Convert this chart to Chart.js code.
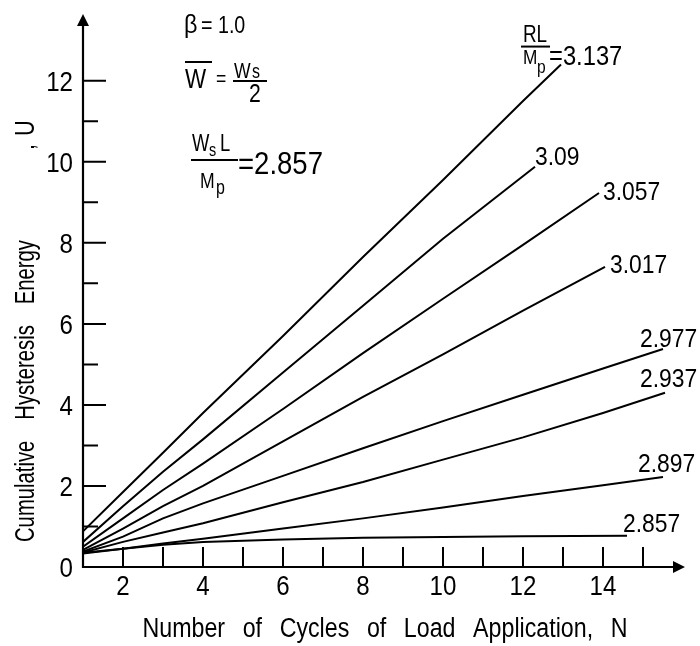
<!DOCTYPE html>
<html>
<head>
<meta charset="utf-8">
<script src="https://cdn.jsdelivr.net/npm/chart.js@4.4.0/dist/chart.umd.min.js"></script>
<style>
  html, body { margin: 0; padding: 0; background: #fff; }
</style>
</head>
<body>
<canvas id="hystChart" width="700" height="646"></canvas>
<script>
// values, one pair of arrays per curve (N, U)
const N_3137 = [1, 2, 3, 4, 6, 8, 10, 12, 12.95];
const U_3137 = [0.88, 1.85, 2.82, 3.8, 5.7, 7.65, 9.55, 11.5, 12.4];
const N_309  = [1, 2, 3, 4, 6, 8, 10, 12.3];
const U_309  = [0.62, 1.5, 2.35, 3.15, 4.8, 6.45, 8.1, 9.88];
const N_3057 = [1, 2, 3, 4, 6, 8, 10, 12, 13.9];
const U_3057 = [0.5, 1.2, 1.9, 2.55, 3.9, 5.28, 6.62, 7.95, 9.23];
const N_3017 = [1, 2, 3, 4, 6, 8, 10, 12, 14.05];
const U_3017 = [0.42, 0.95, 1.5, 2.0, 3.1, 4.2, 5.25, 6.33, 7.41];
const N_2977 = [1, 2, 3, 4, 6, 8, 10, 12, 14, 15.5];
const U_2977 = [0.38, 0.75, 1.2, 1.57, 2.25, 2.93, 3.6, 4.25, 4.9, 5.38];
const N_2937 = [1, 2, 3, 4, 6, 8, 10, 12, 14, 15.55];
const U_2937 = [0.36, 0.62, 0.85, 1.08, 1.6, 2.1, 2.65, 3.2, 3.8, 4.3];
const N_2897 = [1, 2, 3, 4, 6, 8, 10, 12, 14, 15.5];
const U_2897 = [0.35, 0.45, 0.58, 0.7, 0.95, 1.2, 1.47, 1.75, 2.02, 2.22];
const N_2857 = [1, 2, 3, 4, 6, 8, 10, 12, 14.6];
const U_2857 = [0.33, 0.45, 0.55, 0.62, 0.68, 0.72, 0.74, 0.76, 0.77];

// RL/Mp value of each curve
const RL_MP = ['3.137', '3.09', '3.057', '3.017', '2.977', '2.937', '2.897', '2.857'];

// axis ticks
const X_TICKS = [2, 3, 4, 5, 6, 7, 8, 9, 10, 11, 12, 13, 14, 15];
const X_LABELS = [2, 4, 6, 8, 10, 12, 14];
const Y_TICKS = [1, 2, 3, 4, 5, 6, 7, 8, 9, 10, 11, 12];
const Y_LABELS = [0, 2, 4, 6, 8, 10, 12];

const X_TITLE = 'Number of Cycles of Load Application, N';
const Y_TITLE = 'Cumulative Hysteresis Energy';
const Y_TITLE_END = [',', 'U'];

const FONT = '"Liberation Sans", Arial, sans-serif';

const curves = [
  [N_3137, U_3137], [N_309, U_309], [N_3057, U_3057], [N_3017, U_3017],
  [N_2977, U_2977], [N_2937, U_2937], [N_2897, U_2897], [N_2857, U_2857]
];

// where each curve label sits, relative to the curve's last point (px)
const LABEL_OFF = {
  '3.09': [0, -2], '3.057': [4, 7], '3.017': [5, 6], '2.977': [-23, -2],
  '2.937': [-25, -6], '2.897': [-25, -5], '2.857': [-4, -4]
};

// lettering of the original is narrow, so squeeze the text horizontally
function txt(ctx, s, x, y, size, align, hs) {
  ctx.save();
  ctx.translate(x, y);
  ctx.scale(hs || 0.85, 1);
  ctx.font = size + 'px ' + FONT;
  ctx.textAlign = align || 'left';
  ctx.textBaseline = 'alphabetic';
  ctx.fillText(s, 0, 0);
  ctx.restore();
}

// centred text stretched over a given width by widening the word gaps
function spreadTxt(ctx, s, cx, y, size, width, hs) {
  ctx.save();
  ctx.font = size + 'px ' + FONT;
  ctx.wordSpacing = '0px';
  const w = ctx.measureText(s).width;
  const gaps = s.split(' ').length - 1;
  ctx.wordSpacing = Math.max(0, (width / hs - w) / gaps) + 'px';
  txt(ctx, s, cx, y, size, 'center', hs);
  ctx.restore();
}

const decor = {
  id: 'decor',
  afterDraw(chart) {
    const ctx = chart.ctx;
    const xs = chart.scales.x, ys = chart.scales.y;
    const X = v => xs.getPixelForValue(v);
    const Y = v => ys.getPixelForValue(v);
    const x0 = X(1), y0 = Y(0);
    ctx.save();
    ctx.strokeStyle = '#000';
    ctx.fillStyle = '#000';
    ctx.lineWidth = 2.2;

    // axes with arrow heads
    const yTip = Y(13.65), xTip = X(16.05);
    ctx.beginPath();
    ctx.moveTo(x0, y0 + 1); ctx.lineTo(x0, yTip + 8);
    ctx.moveTo(x0 - 1, y0); ctx.lineTo(xTip - 8, y0);
    ctx.stroke();
    ctx.beginPath();
    ctx.moveTo(x0, yTip); ctx.lineTo(x0 - 6, yTip + 12); ctx.lineTo(x0 + 6, yTip + 12); ctx.closePath();
    ctx.moveTo(xTip, y0); ctx.lineTo(xTip - 12, y0 - 6); ctx.lineTo(xTip - 12, y0 + 6); ctx.closePath();
    ctx.fill();

    // inward ticks
    ctx.lineWidth = 2;
    ctx.beginPath();
    Y_TICKS.forEach(v => {
      const len = v % 2 === 0 ? 23 : 15;
      ctx.moveTo(x0, Y(v)); ctx.lineTo(x0 + len, Y(v));
    });
    X_TICKS.forEach(v => {
      ctx.moveTo(X(v), y0); ctx.lineTo(X(v), y0 - 20);
    });
    ctx.stroke();

    // tick labels
    X_LABELS.forEach(v => txt(ctx, String(v), X(v), y0 + 28, 28, 'center', 0.86));
    Y_LABELS.forEach(v => txt(ctx, String(v), x0 - 10, Y(v) + 10, 28, 'right', 0.86));

    // axis titles
    spreadTxt(ctx, X_TITLE, 385, 637, 27, 485, 0.86);
    ctx.save();
    ctx.translate(34, 330);
    ctx.rotate(-Math.PI / 2);
    spreadTxt(ctx, Y_TITLE, -61, 0, 27, 302, 0.75);
    txt(ctx, Y_TITLE_END[0], 180, 0, 27, 'left', 0.8);
    txt(ctx, Y_TITLE_END[1], 194, 0, 27, 'left', 0.8);
    ctx.restore();

    // curve labels
    chart.data.datasets.forEach((ds, i) => {
      const last = ds.data[ds.data.length - 1];
      const px = X(last.x), py = Y(last.y);
      const name = RL_MP[i];
      if (i === 0) {
        txt(ctx, '=3.137', px - 12, py, 27, 'left', 0.88);
        txt(ctx, 'RL', px - 38, py - 23, 23, 'left', 0.82);
        ctx.beginPath(); ctx.moveTo(px - 40, py - 18); ctx.lineTo(px - 11, py - 18); ctx.stroke();
        txt(ctx, 'M', px - 38, py - 1, 21, 'left', 0.82);
        txt(ctx, 'p', px - 24, py + 8, 19, 'left', 0.82);
        return;
      }
      const o = LABEL_OFF[name];
      txt(ctx, name, px + o[0], py + o[1], 26, 'left', 0.88);
    });

    // parameter block, upper left
    txt(ctx, '\u03b2', 184, 33, 26, 'left', 0.9);
    txt(ctx, '= 1.0', 201, 33, 24, 'left', 0.82);
    txt(ctx, 'W', 185, 88, 28, 'left', 0.8);
    ctx.beginPath(); ctx.moveTo(185, 62); ctx.lineTo(212, 62); ctx.stroke();
    txt(ctx, '=', 216, 86, 22, 'left', 0.8);
    txt(ctx, 'W', 234, 78, 22, 'left', 0.8);
    txt(ctx, 's', 252, 78, 20, 'left', 0.8);
    ctx.beginPath(); ctx.moveTo(233, 81); ctx.lineTo(267, 81); ctx.stroke();
    txt(ctx, '2', 249, 102, 25, 'left', 0.85);

    txt(ctx, 'W', 192, 151, 23, 'left', 0.8);
    txt(ctx, 's', 209, 156, 18, 'left', 0.8);
    txt(ctx, 'L', 220, 151, 23, 'left', 0.8);
    ctx.beginPath(); ctx.moveTo(191, 160); ctx.lineTo(238, 160); ctx.stroke();
    txt(ctx, 'M', 200, 188, 22, 'left', 0.8);
    txt(ctx, 'p', 216, 194, 20, 'left', 0.8);
    txt(ctx, '=2.857', 238, 174, 32, 'left', 0.86);

    ctx.restore();
  }
};

new Chart(document.getElementById('hystChart'), {
  type: 'line',
  data: {
    datasets: curves.map((c, i) => ({
      label: RL_MP[i],
      data: c[0].map((n, k) => ({ x: n, y: c[1][k] })),
      borderColor: '#000',
      borderWidth: 2,
      pointRadius: 0,
      fill: false,
      tension: 0
    }))
  },
  options: {
    responsive: false,
    devicePixelRatio: 1,
    animation: false,
    layout: { padding: { top: 20, right: 17, bottom: 0, left: 0 } },
    scales: {
      x: {
        type: 'linear', min: 1, max: 16,
        ticks: { display: false },
        grid: { display: false, drawTicks: false },
        border: { display: false },
        afterFit: s => { s.height = 79; }
      },
      y: {
        type: 'linear', min: 0, max: 13.5,
        ticks: { display: false },
        grid: { display: false, drawTicks: false },
        border: { display: false },
        afterFit: s => { s.width = 83; }
      }
    },
    plugins: { legend: { display: false }, tooltip: { enabled: false } }
  },
  plugins: [decor]
});
</script>
</body>
</html>
